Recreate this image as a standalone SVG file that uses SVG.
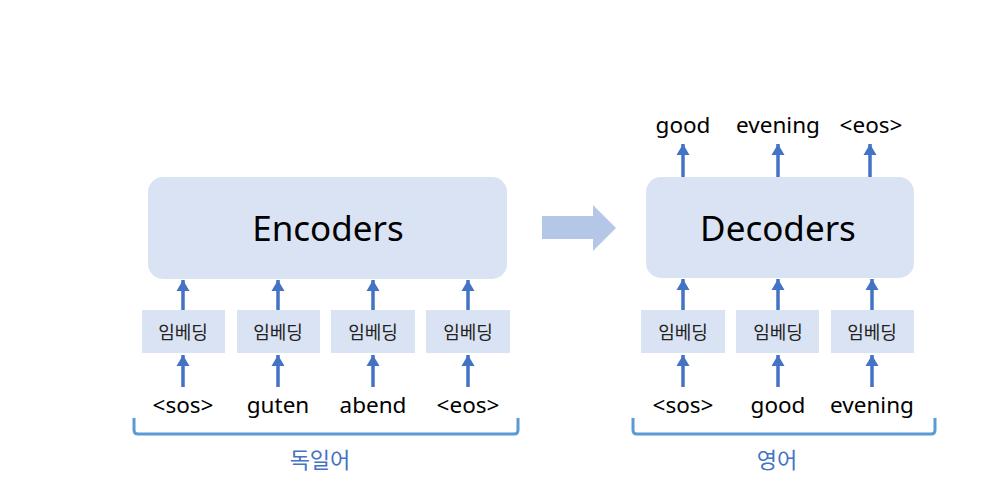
<svg xmlns="http://www.w3.org/2000/svg" width="994" height="477" viewBox="0 0 994 477">
<defs>
<marker id="ah" markerUnits="userSpaceOnUse" markerWidth="14" markerHeight="14" refX="11" refY="7" orient="auto">
<path d="M0,0.5 L11,7 L0,13.5 Z" fill="#4472C4"/>
</marker>
<style>
.box{fill:#DAE3F3}
.emb{fill:#DAE3F3}
.big{font-family:"Noto Sans","Noto Sans CJK KR",sans-serif;font-size:35px;fill:#000;text-anchor:middle;dominant-baseline:central}
.ko{font-family:"Noto Sans CJK KR","Noto Sans",sans-serif;font-size:18px;fill:#222;text-anchor:middle;dominant-baseline:central}
.tok{font-family:"Noto Sans","Noto Sans CJK KR",sans-serif;font-size:22.5px;fill:#000;text-anchor:middle}
.lab{font-family:"Noto Sans CJK KR","Noto Sans",sans-serif;font-size:22px;fill:#4472C4;text-anchor:middle;dominant-baseline:central}
.ar{stroke:#4472C4;stroke-width:3.5;fill:none;marker-end:url(#ah)}
.br{stroke:#5B9BD5;stroke-width:3;fill:none;stroke-linejoin:round}
</style>
</defs>
<rect width="994" height="477" fill="#fff"/>
<g id="encoders"><rect class="box" x="148" y="177" width="359" height="102" rx="15"/><text class="big" x="328" y="227">Encoders</text></g>
<g id="decoders"><rect class="box" x="646" y="177" width="268" height="101" rx="15"/><text class="big" x="778" y="227">Decoders</text></g>
<g id="emb-e1"><rect class="emb" x="142" y="310" width="83" height="43"/><text class="ko" x="183" y="331">임베딩</text></g>
<g id="emb-e2"><rect class="emb" x="237" y="310" width="83" height="43"/><text class="ko" x="278" y="331">임베딩</text></g>
<g id="emb-e3"><rect class="emb" x="331" y="310" width="84" height="43"/><text class="ko" x="373" y="331">임베딩</text></g>
<g id="emb-e4"><rect class="emb" x="426" y="310" width="84" height="43"/><text class="ko" x="468" y="331">임베딩</text></g>
<g id="emb-d1"><rect class="emb" x="641" y="310" width="84" height="43"/><text class="ko" x="683" y="331">임베딩</text></g>
<g id="emb-d2"><rect class="emb" x="736" y="310" width="83" height="43"/><text class="ko" x="778" y="331">임베딩</text></g>
<g id="emb-d3"><rect class="emb" x="831" y="310" width="83" height="43"/><text class="ko" x="872" y="331">임베딩</text></g>
<g id="tokens">
<text class="tok" x="183" y="413">&lt;sos&gt;</text>
<text class="tok" x="278" y="413">guten</text>
<text class="tok" x="373" y="413">abend</text>
<text class="tok" x="468" y="413">&lt;eos&gt;</text>
<text class="tok" x="683" y="413">&lt;sos&gt;</text>
<text class="tok" x="778" y="413">good</text>
<text class="tok" x="872" y="413">evening</text>
<text class="tok" x="683" y="133">good</text>
<text class="tok" x="778" y="133">evening</text>
<text class="tok" x="871" y="133">&lt;eos&gt;</text>
</g>
<g id="connectors">
<line class="ar" x1="183" y1="387" x2="183" y2="355"/>
<line class="ar" x1="278" y1="387" x2="278" y2="355"/>
<line class="ar" x1="373" y1="387" x2="373" y2="355"/>
<line class="ar" x1="468" y1="387" x2="468" y2="355"/>
<line class="ar" x1="683" y1="387" x2="683" y2="355"/>
<line class="ar" x1="778" y1="387" x2="778" y2="355"/>
<line class="ar" x1="872" y1="387" x2="872" y2="355"/>
<line class="ar" x1="183" y1="310" x2="183" y2="280"/>
<line class="ar" x1="278" y1="310" x2="278" y2="280"/>
<line class="ar" x1="373" y1="310" x2="373" y2="280"/>
<line class="ar" x1="468" y1="310" x2="468" y2="280"/>
<line class="ar" x1="683" y1="310" x2="683" y2="279"/>
<line class="ar" x1="778" y1="310" x2="778" y2="279"/>
<line class="ar" x1="872" y1="310" x2="872" y2="279"/>
<line class="ar" x1="683" y1="177" x2="683" y2="144"/>
<line class="ar" x1="778" y1="177" x2="778" y2="144"/>
<line class="ar" x1="870" y1="177" x2="870" y2="144"/>
<polygon points="542,216 593,216 593,205 616,228 593,251 593,239 542,239" fill="#B4C7E7"/>
</g>
<g id="brace-de"><path class="br" d="M134,418 V430 Q134,434 138,434 H514 Q518,434 518,430 V418"/><text class="lab" x="320" y="458">독일어</text></g>
<g id="brace-en"><path class="br" d="M633,418 V430 Q633,434 637,434 H931 Q935,434 935,430 V418"/><text class="lab" x="777" y="458">영어</text></g>
</svg>
